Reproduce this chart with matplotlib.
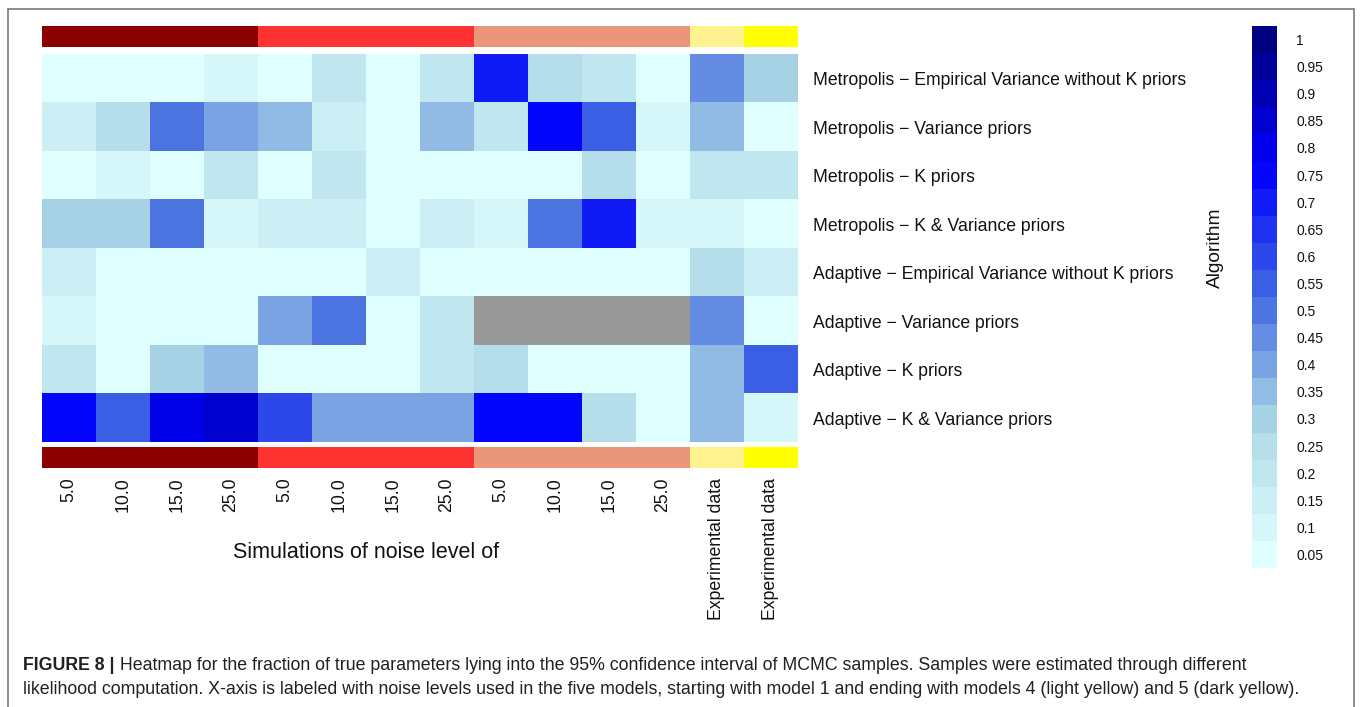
import numpy as np
import matplotlib
matplotlib.use("Agg")
import matplotlib.pyplot as plt
from matplotlib.colors import ListedColormap, BoundaryNorm, LinearSegmentedColormap
from matplotlib.patches import Rectangle
import matplotlib.transforms as mtransforms

plt.rcParams['font.family'] = ['Liberation Sans', 'DejaVu Sans']

# ---------------- data ----------------
algorithms = [
    "Metropolis \u2212 Empirical Variance without K priors",
    "Metropolis \u2212 Variance priors",
    "Metropolis \u2212 K priors",
    "Metropolis \u2212 K & Variance priors",
    "Adaptive \u2212 Empirical Variance without K priors",
    "Adaptive \u2212 Variance priors",
    "Adaptive \u2212 K priors",
    "Adaptive \u2212 K & Variance priors",
]
column_labels = ["5.0", "10.0", "15.0", "25.0",
                 "5.0", "10.0", "15.0", "25.0",
                 "5.0", "10.0", "15.0", "25.0",
                 "Experimental data", "Experimental data"]
column_model = [1, 1, 1, 1, 2, 2, 2, 2, 3, 3, 3, 3, 4, 5]
model_colors = ["#8B0000", "#FF3232", "#E9967A", "#FFF38F", "#FFFF00"]

nan = np.nan
row_metro_emp = [0.05, 0.05, 0.05, 0.10, 0.05, 0.20, 0.05, 0.20, 0.70, 0.25, 0.20, 0.05, 0.45, 0.30]
row_metro_var = [0.15, 0.25, 0.50, 0.40, 0.35, 0.15, 0.05, 0.35, 0.20, 0.75, 0.55, 0.10, 0.35, 0.05]
row_metro_k   = [0.05, 0.10, 0.05, 0.20, 0.05, 0.20, 0.05, 0.05, 0.05, 0.05, 0.25, 0.05, 0.20, 0.20]
row_metro_kv  = [0.30, 0.30, 0.50, 0.10, 0.15, 0.15, 0.05, 0.15, 0.10, 0.50, 0.70, 0.10, 0.10, 0.05]
row_adapt_emp = [0.15, 0.05, 0.05, 0.05, 0.05, 0.05, 0.15, 0.05, 0.05, 0.05, 0.05, 0.05, 0.25, 0.15]
row_adapt_var = [0.10, 0.05, 0.05, 0.05, 0.40, 0.50, 0.05, 0.20, nan, nan, nan, nan, 0.45, 0.05]
row_adapt_k   = [0.20, 0.05, 0.30, 0.35, 0.05, 0.05, 0.05, 0.20, 0.25, 0.05, 0.05, 0.05, 0.35, 0.55]
row_adapt_kv  = [0.75, 0.55, 0.80, 0.85, 0.60, 0.40, 0.40, 0.40, 0.75, 0.75, 0.25, 0.05, 0.35, 0.10]

colorbar_levels = [0.05, 0.1, 0.15, 0.2, 0.25, 0.3, 0.35, 0.4, 0.45, 0.5,
                   0.55, 0.6, 0.65, 0.7, 0.75, 0.8, 0.85, 0.9, 0.95, 1.0]

caption_bold = "FIGURE 8 |"
caption_line1 = (" Heatmap for the fraction of true parameters lying into the 95% confidence "
                 "interval of MCMC samples. Samples were estimated through different")
caption_line2 = ("likelihood computation. X-axis is labeled with noise levels used in the five "
                 "models, starting with model 1 and ending with models 4 (light yellow) and 5 (dark yellow).")

values = np.array([row_metro_emp, row_metro_var, row_metro_k, row_metro_kv,
                   row_adapt_emp, row_adapt_var, row_adapt_k, row_adapt_kv])

# ---------------- figure ----------------
W, H = 1360, 707
fig = plt.figure(figsize=(W / 100, H / 100), dpi=100)

def px_axes(x0, y0, x1, y1):
    return fig.add_axes([x0 / W, 1 - y1 / H, (x1 - x0) / W, (y1 - y0) / H])

# colour map: 20 discrete levels
base = LinearSegmentedColormap.from_list(
    "blues", ["#E0FFFF", "#ADD8E6", "#4169E1", "#0000FF", "#000080"])
cols = [base(i / (len(colorbar_levels) - 1)) for i in range(len(colorbar_levels))]
cmap = ListedColormap(cols)
cmap.set_bad("#999999")
bounds = [lv - 0.025 for lv in colorbar_levels] + [colorbar_levels[-1] + 0.025]
norm = BoundaryNorm(bounds, cmap.N)

ncol = len(column_labels)
nrow = len(algorithms)

x_left, x_right = 42, 797.7

# main heatmap
ax = px_axes(x_left, 54.3, x_right, 442.3)
im = ax.imshow(np.ma.masked_invalid(values), cmap=cmap, norm=norm,
               aspect="auto", interpolation="nearest")
ax.set_xticks([])
ax.yaxis.tick_right()
ax.set_yticks(range(nrow))
ax.set_yticklabels(algorithms, fontsize=12.7, color="#111111")
ax.tick_params(axis="y", length=0, pad=11)
for s in ax.spines.values():
    s.set_visible(False)

# annotation bars
ann_cmap = ListedColormap(model_colors)
ann = np.array([column_model]) - 1
ax_top = px_axes(x_left, 26, x_right, 46.7)
ax_top.imshow(ann, cmap=ann_cmap, vmin=-0.5, vmax=len(model_colors) - 0.5,
              aspect="auto", interpolation="nearest")
ax_top.set_axis_off()

ax_bot = px_axes(x_left, 447.3, x_right, 468)
ax_bot.imshow(ann, cmap=ann_cmap, vmin=-0.5, vmax=len(model_colors) - 0.5,
              aspect="auto", interpolation="nearest")
ax_bot.set_yticks([])
ax_bot.set_xticks(range(ncol))
ax_bot.set_xticklabels(column_labels, rotation=90, fontsize=12.7, color="#111111",
                       va="top", ha="center")
ax_bot.tick_params(axis="x", length=0, pad=7)
for s in ax_bot.spines.values():
    s.set_visible(False)

trans = mtransforms.blended_transform_factory(ax_bot.transData, fig.transFigure)
ax_bot.text(5.5, 1 - 552 / H, "Simulations of noise level of", transform=trans,
            ha="center", va="center", fontsize=15.5, color="#111111")

# colour bar
cax = px_axes(1252, 26, 1277.3, 568)
cb = fig.colorbar(im, cax=cax, boundaries=bounds, ticks=colorbar_levels)
cb.ax.minorticks_off()
cb.ax.set_yticks(colorbar_levels)
cb.ax.set_yticklabels(["%g" % v for v in colorbar_levels])
cb.ax.tick_params(which="both", length=0, labelsize=10, pad=13.5, colors="#111111")
cb.outline.set_visible(False)

fig.text(1215 / W, 1 - 248 / H, "Algorithm", rotation=90, ha="center", va="center",
         fontsize=13.8, color="#111111")

# frame
fig.patches.append(Rectangle((8 / W, -0.05), (1354 - 8) / W, 1 - 9 / H + 0.05,
                             transform=fig.transFigure, fill=False,
                             edgecolor="#7a7a7a", linewidth=1.2))

# caption
renderer = fig.canvas.get_renderer()
y1 = 1 - 666 / H
y2 = 1 - 690 / H
cap_fs = 12.8
tb = fig.text(23 / W, y1, caption_bold, fontsize=cap_fs, fontweight="bold",
              va="center", ha="left", color="#231F20")
bb = tb.get_window_extent(renderer=renderer)
fig.text(bb.x1 / W, y1, caption_line1, fontsize=cap_fs, va="center", ha="left",
         color="#231F20")
fig.text(23 / W, y2, caption_line2, fontsize=cap_fs, va="center", ha="left",
         color="#231F20")

fig.savefig("out.png", dpi=100)
